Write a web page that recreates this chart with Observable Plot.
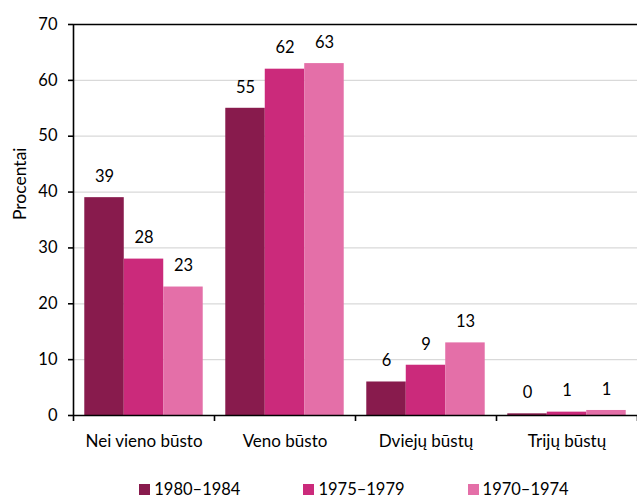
<!DOCTYPE html>
<html>
<head>
<meta charset="utf-8">
<script src="https://cdn.jsdelivr.net/npm/d3@7"></script>
<script src="https://cdn.jsdelivr.net/npm/@observablehq/plot@0.6"></script>
<style>
  html, body { margin: 0; padding: 0; background: #fff; }
  body { font-family: Lato, "Open Sans", sans-serif; color: #000; }
  #chart svg { display: block; }
  .lg-swatches.lg-swatches-wrap {
    font-family: Lato, "Open Sans", sans-serif !important;
    font-size: 16.5px !important;
    line-height: 17px !important;
    color: #000 !important;
    justify-content: center !important;
    padding-left: 71px !important;
    min-height: 20px !important;
    height: 20px !important;
    margin: 19px 0 0 0 !important;
  }
  .lg-swatches .lg-swatch { margin-right: 63px !important; line-height: 17px !important; }
  .lg-swatches .lg-swatch:last-child { margin-right: 0 !important; }
  .lg-swatches .lg-swatch > svg { margin-right: 4px !important; }
</style>
</head>
<body>
<div id="chart"></div>
<script>
const categories = ["Nei vieno būsto", "Veno būsto", "Dviejų būstų", "Trijų būstų"];
const series = ["1980–1984", "1975–1979", "1970–1974"];
const v1980_1984 = [39, 55, 6, 0.3];
const v1975_1979 = [28, 62, 9, 0.6];
const v1970_1974 = [23, 63, 13, 0.9];
const colors = ["#881b4d", "#cb2a7b", "#e46fa8"];
const yTicks = [0, 10, 20, 30, 40, 50, 60, 70];
const yLabel = "Procentai";

const seriesValues = [v1980_1984, v1975_1979, v1970_1974];
const rows = [];
categories.forEach((c, ci) => {
  series.forEach((s, si) => {
    rows.push({category: c, ci, series: s, si, value: seriesValues[si][ci]});
  });
});

// layout fractions inside each category group
const pad = 0.08, bw = (1 - 2 * pad) / series.length;
const x1 = d => d.ci + pad + d.si * bw;
const x2 = d => d.ci + pad + (d.si + 1) * bw;
const xc = d => d.ci + pad + (d.si + 0.5) * bw;

const font = "Lato, 'Open Sans', sans-serif";

const chart = Plot.plot({
  width: 637,
  height: 460,
  marginLeft: 73,
  marginRight: 0,
  marginTop: 24,
  marginBottom: 45,
  style: {fontFamily: font, fontSize: "16px", color: "#000", background: "#fff"},
  x: {type: "linear", domain: [0, categories.length], axis: null},
  y: {domain: [0, 70], axis: null},
  color: {domain: series, range: colors},
  marks: [
    Plot.gridY(yTicks.filter(d => d > 0 && d < 70), {stroke: "#d9d9d9", strokeOpacity: 1, strokeWidth: 1.2}),
    Plot.rectY(rows, {x1, x2, y: "value", fill: "series"}),
    Plot.text(rows, {x: xc, y: "value", text: d => d3.format(".0f")(d.value), dy: -21, fontSize: 16.5, fill: "#000"}),
    Plot.ruleY([0, 70], {stroke: "#000", strokeWidth: 1.6}),
    Plot.ruleX([0], {y1: 0, y2: 70, stroke: "#000", strokeWidth: 1.6}),
    Plot.axisX({ticks: d3.range(categories.length + 1), tickSize: 6, tickFormat: () => "", stroke: "#000", strokeWidth: 1.6, strokeOpacity: 1}),
    Plot.axisX({ticks: categories.map((c, i) => i + 0.5), tickSize: 0, tickPadding: 19, tickFormat: d => categories[Math.floor(d)], fontSize: 17, fill: "#000", label: null}),
    Plot.axisY({ticks: yTicks, tickSize: 5, tickPadding: 11, tickFormat: d3.format("d"), fontSize: 16.5, fill: "#000", stroke: "#000", strokeWidth: 1.6, strokeOpacity: 1, label: null}),
    Plot.text([yLabel], {text: d => d, frameAnchor: "left", rotate: -90, dx: -53, fontSize: 17.5, fill: "#000"})
  ]
});
document.getElementById("chart").appendChild(chart);

const legend = Plot.legend({
  color: {domain: series, range: colors},
  legend: "swatches",
  swatchSize: 11,
  className: "lg"
});
document.getElementById("chart").appendChild(legend);
</script>
</body>
</html>
